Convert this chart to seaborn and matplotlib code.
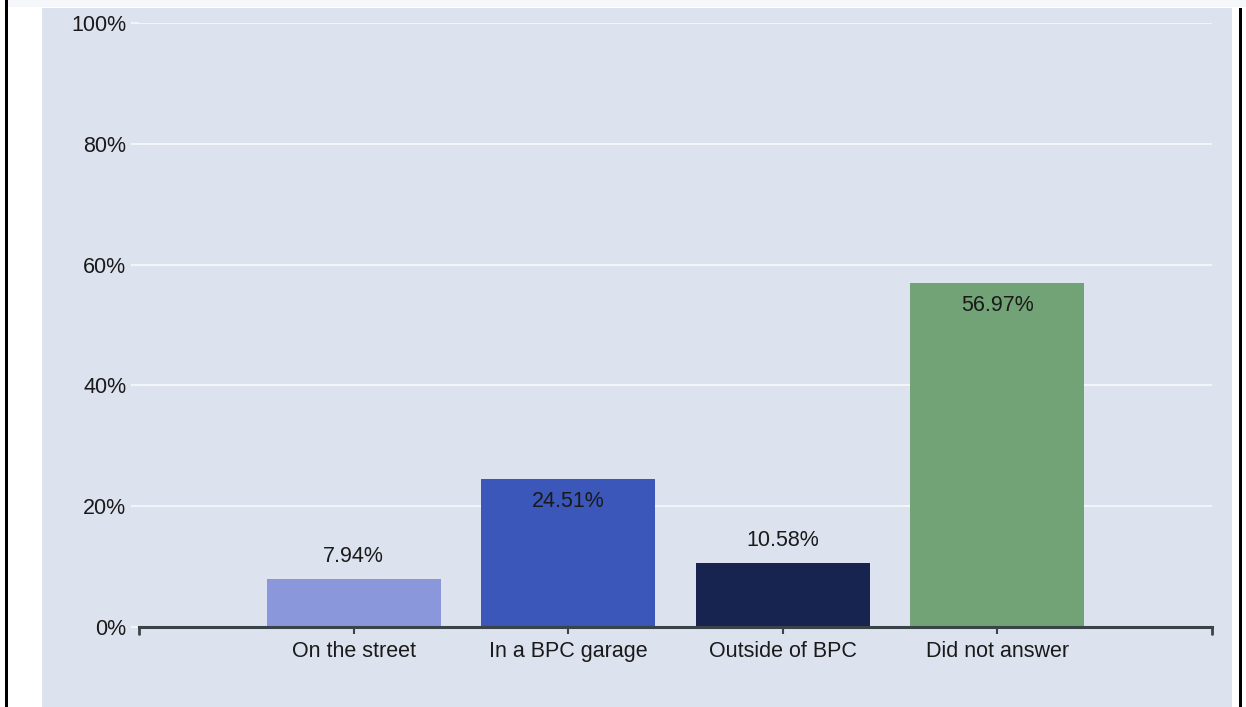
import matplotlib
matplotlib.use('Agg')
import matplotlib.pyplot as plt
from matplotlib.patches import Rectangle
import seaborn as sns
import pandas as pd

# data
categories = ['On the street', 'In a BPC garage', 'Outside of BPC', 'Did not answer']
values = [7.94, 24.51, 10.58, 56.97]
bar_colors = ['#8A97DA', '#3B57B9', '#17244F', '#71A376']
y_ticks = [0, 20, 40, 60, 80, 100]

df = pd.DataFrame({'where': categories, 'pct': values})

sns.set_theme(style='white')
plt.rcParams['font.family'] = ['Liberation Sans', 'DejaVu Sans']

W, H = 1246, 707
fig = plt.figure(figsize=(W / 100, H / 100), dpi=100, facecolor='white')

# background panel and frame lines
fig.add_artist(Rectangle((8 / W, 1 - 7 / H), 1 - 8 / W, 7 / H, transform=fig.transFigure,
                         facecolor='#F5F7FB', edgecolor='none', zorder=0))
fig.add_artist(Rectangle((42 / W, 0), 1190 / W, 1 - 8 / H, transform=fig.transFigure,
                         facecolor='#DDE2EF', edgecolor='none', zorder=0))
fig.add_artist(Rectangle((5 / W, 0), 3 / W, 1, transform=fig.transFigure,
                         facecolor='black', edgecolor='none', zorder=1))
fig.add_artist(Rectangle((1239 / W, 0), 3 / W, 1 - 8 / H, transform=fig.transFigure,
                         facecolor='black', edgecolor='none', zorder=1))

left, right = 139, 1212
top, bottom = 23, 627
ax = fig.add_axes([left / W, 1 - bottom / H, (right - left) / W, (bottom - top) / H])
ax.patch.set_alpha(0)

sns.barplot(data=df, x='where', y='pct', hue='where', palette=bar_colors,
            width=0.81, saturation=1, legend=False, linewidth=0, ax=ax, zorder=3)

ax.set_xlim(-1, 4)
ax.set_ylim(0, 100)
ax.set_yticks(y_ticks)
ax.set_yticklabels([f'{t}%' for t in y_ticks])
for t in y_ticks[1:]:
    ax.axhline(t, color='#F4F5F9', lw=1.5, zorder=1)

ax.set_xlabel('')
ax.set_ylabel('')
for s in ['top', 'right', 'left']:
    ax.spines[s].set_visible(False)
ax.spines['bottom'].set_color('#3A4448')
ax.spines['bottom'].set_linewidth(2.2)
ax.spines['bottom'].set_zorder(4)

fs = 15.5
ax.tick_params(axis='x', length=5, width=1.5, color='#3A4448', direction='out',
               labelsize=fs, labelcolor='#1A1A1A', pad=5, bottom=True)
ax.tick_params(axis='y', length=6, width=1.5, color='#F4F5F9', direction='out',
               labelsize=fs, labelcolor='#1A1A1A', pad=3, left=True)

# corner ticks at axis ends
for xe in (-1, 4):
    ax.plot([xe, xe], [0, -1.2], color='#3A4448', lw=2, clip_on=False, zorder=4)

# value labels
for i, v in enumerate(values):
    if v > 20:
        ax.text(i, v - 2.0, f'{v:.2f}%', ha='center', va='top', fontsize=fs, color='#1A1A1A', zorder=5)
    else:
        ax.text(i, v + 2.0, f'{v:.2f}%', ha='center', va='bottom', fontsize=fs, color='#1A1A1A', zorder=5)

fig.savefig('out.png', dpi=100, facecolor='white')
